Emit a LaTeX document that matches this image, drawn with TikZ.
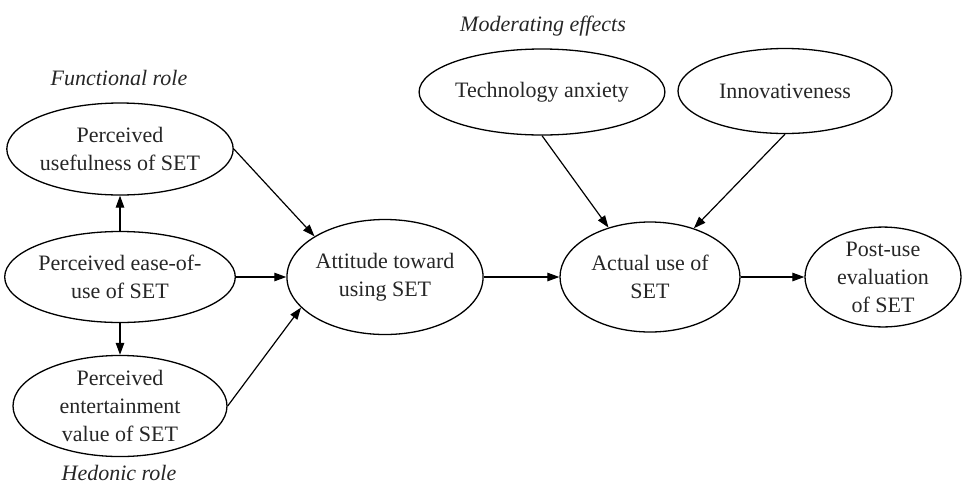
\documentclass[tikz,border=0pt]{standalone}
\usepackage{fontspec}
\setmainfont{Liberation Serif}
\usetikzlibrary{shapes.geometric,arrows.meta}
\begin{document}
\begin{tikzpicture}[x=1pt,y=-1pt,
  ell/.style={ellipse,draw,line width=1.3pt,inner sep=0pt,align=center,
    font=\fontsize{22}{28}\selectfont,text=black!85},
  lab/.style={font=\fontsize{22}{28}\selectfont\itshape,text=black!85},
  arr/.style={line width=1.2pt,-{Triangle[length=12pt,width=8.5pt]}}]
\useasboundingbox (0,0) rectangle (963,488);
\node[ell,minimum width=214pt,minimum height=92pt] (pu) at (120,149) {Perceived\\usefulness of SET};
\node[ell,minimum width=213pt,minimum height=91pt] (pe) at (120,277) {Perceived ease-of-\\use of SET};
\node[ell,minimum width=214pt,minimum height=96pt] (pv) at (120,406) {Perceived\\entertainment\\value of SET};
\node[ell,minimum width=190pt,minimum height=115pt] (att) at (385,277) {Attitude toward\\using SET};
\node[ell,minimum width=214pt,minimum height=86pt] (ta) at (542,92) {Technology anxiety};
\node[ell,minimum width=214pt,minimum height=85pt] (inn) at (785,91) {Innovativeness};
\node[ell,minimum width=180pt,minimum height=110pt] (au) at (650,277) {Actual use of\\SET};
\node[ell,minimum width=156pt,minimum height=96pt] (post) at (883,277) {Post-use\\evaluation\\of SET};
\node[lab] (fr) at (119,78) {Functional role};
\node[lab] (hr) at (119,473) {Hedonic role};
\node[lab] (me) at (543,26) {Moderating effects};
\draw[arr] (pe.north) -- (pu.south);
\draw[arr] (pe.south) -- (pv.south|-pv.north);
\draw[arr] (pu.east) -- (att.150);
\draw[arr] (pe.east) -- (att.west);
\draw[arr] (pv.east) -- (att.200);
\draw[arr] (att.east) -- (au.west);
\draw[arr] (au.east) -- (post.west);
\draw[arr] (ta.south) -- (au.130);
\draw[arr] (inn.south) -- (au.48);
\end{tikzpicture}
\end{document}
